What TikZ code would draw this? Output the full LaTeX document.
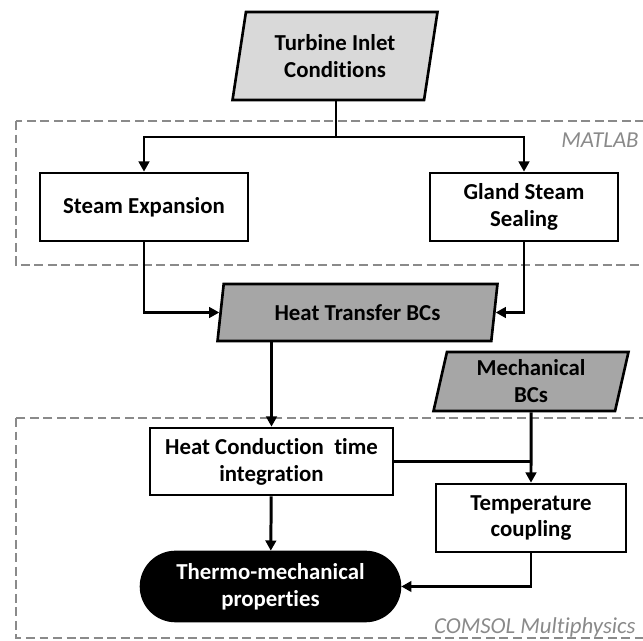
\documentclass[tikz,border=0pt]{standalone}
\usepackage{fontspec}
\setmainfont{Carlito}[Ligatures=NoCommon]
\usetikzlibrary{arrows.meta, shapes.geometric}
\definecolor{lightgrey}{HTML}{D9D9D9}
\definecolor{midgrey}{HTML}{A6A6A6}
\definecolor{framegrey}{HTML}{8A8A8A}

\begin{document}
\begin{tikzpicture}[x=0.02cm, y=-0.02cm, -{Triangle[length=5.8pt,width=6pt]},
		line width=1.7pt,
		every node/.style={font=\fontsize{13}{15.3}\selectfont\bfseries, align=center},
		procbox/.style={draw, line width=1.5pt, fill=white, minimum height=1.36cm, inner sep=2pt},
		databox/.style={draw, line width=1.5pt, trapezium, trapezium left angle=75, trapezium right angle=105,
			trapezium stretches body, minimum height=1.14cm, inner sep=2pt},
		toolframe/.style={draw=framegrey, line width=1.4pt, dash pattern=on 5.1pt off 2.6pt, -},
		toollabel/.style={font=\fontsize{13}{15.3}\selectfont\itshape, text=framegrey}]

		\useasboundingbox (0,0) rectangle (643,641);
		\clip (0,0) rectangle (643,641);

		% tool frames
		\draw[toolframe] (16,121) rectangle (680,265);
		\draw[toolframe] (16,418) rectangle (680,638);
		\node[toollabel, anchor=east] (matlab) at (646,140) {MATLAB};
		\node[toollabel, anchor=east] (comsol) at (643,627) {COMSOL Multiphysics};

		% inputs
		\node at (335,56) [databox, fill=lightgrey, minimum height=1.76cm, minimum width=4.1cm] (TI) {Turbine Inlet\\Conditions};
		\node at (357.5,312.5) [databox, fill=midgrey, minimum width=5.6cm] (HT) {Heat Transfer BCs};
		\node at (531,381.5) [databox, fill=midgrey, minimum height=1.18cm, minimum width=3.9cm] (MB) {Mechanical\\BCs};

		% MATLAB
		\node at (144,207) [procbox, minimum width=4.16cm] (SE) {Steam Expansion};
		\node at (524,207) [procbox, minimum width=3.76cm] (GS) {Gland Steam\\Sealing};

		% COMSOL
		\node at (271.5,461.5) [procbox, minimum width=4.86cm, minimum height=1.34cm] (HC) {Heat Conduction\ \ time\\integration};
		\node at (531,518) [procbox, minimum width=3.8cm] (TC) {Temperature\\coupling};
		\node at (270.5,586.5) [draw, line width=1.5pt, fill=black, text=white, rounded corners=0.69cm,
			minimum width=5.18cm, minimum height=1.38cm] (TM) {Thermo-mechanical\\properties};

		\coordinate (split) at (336,137);

		\draw[-] (TI.south -| split) -- (split);
		\draw (split) -| (SE);
		\draw (split) -| (GS);
		\draw (SE) |- (HT);
		\draw (GS) |- (HT);
		\draw (HT.south -| HC.north) -- (HC);
		\draw[-] (HC.east) -- (HC.east -| TC.north);
		\path (MB) edge (TC)
			(HC) edge (TM);
		\draw (TC) |- (TM);
	\end{tikzpicture}
\end{document}
